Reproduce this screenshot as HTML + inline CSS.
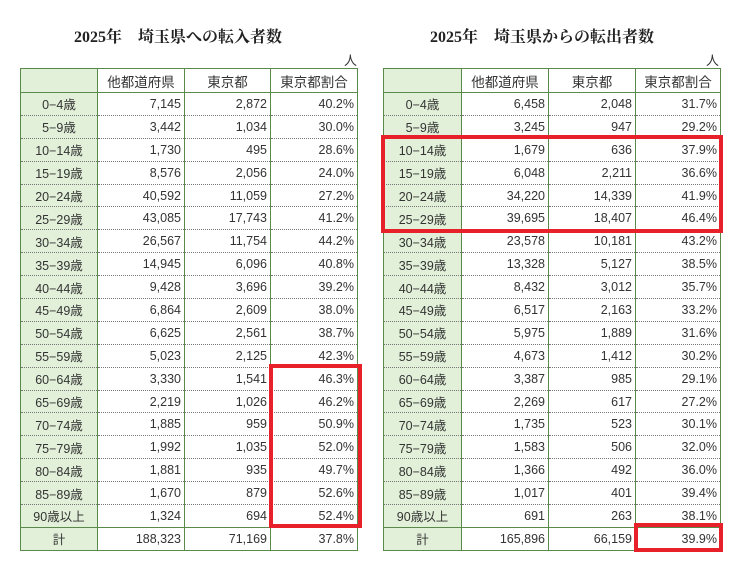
<!DOCTYPE html>
<html><head><meta charset="utf-8"><style>
body{margin:0;background:#fff;width:740px;height:570px;position:relative;overflow:hidden;font-family:"Liberation Sans","Noto Sans CJK JP",sans-serif;}
.t{position:absolute;top:24px;font-family:"Liberation Serif","Noto Serif CJK SC",serif;font-size:16px;font-weight:bold;color:#222;}
.u{position:absolute;top:50px;font-size:13px;color:#333;}
table{position:absolute;top:68px;border-collapse:collapse;table-layout:fixed;font-size:12.5px;color:#333;}
td{border-left:1.5px solid #5a8a4a;border-right:1.5px solid #5a8a4a;border-bottom:1px dotted #777;height:21.9px;padding:0 3px;text-align:right;white-space:nowrap;}
tr:first-child td{height:23px;text-align:center;border-bottom:1.5px solid #5a8a4a;font-size:13.5px}
td:first-child{background:#e2f0d9;text-align:center;}
tr:last-child td{border-top:1.5px solid #5a8a4a;}
table{border:1.5px solid #5a8a4a;}
.r{position:absolute;border:4px solid #e8202a;}
</style></head><body>
<div class="t" style="left:74px">2025年　埼玉県への転入者数</div>
<div class="t" style="left:430px">2025年　埼玉県からの転出者数</div>
<div class="u" style="left:344px">人</div>
<div class="u" style="left:706px">人</div>
<table style="left:20px;width:338px">
<colgroup><col style="width:77px"><col style="width:87px"><col style="width:86px"><col style="width:87px"></colgroup>
<tr><td></td><td>他都道府県</td><td>東京都</td><td>東京都割合</td></tr>
<tr><td>0−4歳</td><td>7,145</td><td>2,872</td><td>40.2%</td></tr>
<tr><td>5−9歳</td><td>3,442</td><td>1,034</td><td>30.0%</td></tr>
<tr><td>10−14歳</td><td>1,730</td><td>495</td><td>28.6%</td></tr>
<tr><td>15−19歳</td><td>8,576</td><td>2,056</td><td>24.0%</td></tr>
<tr><td>20−24歳</td><td>40,592</td><td>11,059</td><td>27.2%</td></tr>
<tr><td>25−29歳</td><td>43,085</td><td>17,743</td><td>41.2%</td></tr>
<tr><td>30−34歳</td><td>26,567</td><td>11,754</td><td>44.2%</td></tr>
<tr><td>35−39歳</td><td>14,945</td><td>6,096</td><td>40.8%</td></tr>
<tr><td>40−44歳</td><td>9,428</td><td>3,696</td><td>39.2%</td></tr>
<tr><td>45−49歳</td><td>6,864</td><td>2,609</td><td>38.0%</td></tr>
<tr><td>50−54歳</td><td>6,625</td><td>2,561</td><td>38.7%</td></tr>
<tr><td>55−59歳</td><td>5,023</td><td>2,125</td><td>42.3%</td></tr>
<tr><td>60−64歳</td><td>3,330</td><td>1,541</td><td>46.3%</td></tr>
<tr><td>65−69歳</td><td>2,219</td><td>1,026</td><td>46.2%</td></tr>
<tr><td>70−74歳</td><td>1,885</td><td>959</td><td>50.9%</td></tr>
<tr><td>75−79歳</td><td>1,992</td><td>1,035</td><td>52.0%</td></tr>
<tr><td>80−84歳</td><td>1,881</td><td>935</td><td>49.7%</td></tr>
<tr><td>85−89歳</td><td>1,670</td><td>879</td><td>52.6%</td></tr>
<tr><td>90歳以上</td><td>1,324</td><td>694</td><td>52.4%</td></tr>
<tr><td>計</td><td>188,323</td><td>71,169</td><td>37.8%</td></tr>
</table>
<table style="left:383px;width:337px">
<colgroup><col style="width:78px"><col style="width:87px"><col style="width:87px"><col style="width:85px"></colgroup>
<tr><td></td><td>他都道府県</td><td>東京都</td><td>東京都割合</td></tr>
<tr><td>0−4歳</td><td>6,458</td><td>2,048</td><td>31.7%</td></tr>
<tr><td>5−9歳</td><td>3,245</td><td>947</td><td>29.2%</td></tr>
<tr><td>10−14歳</td><td>1,679</td><td>636</td><td>37.9%</td></tr>
<tr><td>15−19歳</td><td>6,048</td><td>2,211</td><td>36.6%</td></tr>
<tr><td>20−24歳</td><td>34,220</td><td>14,339</td><td>41.9%</td></tr>
<tr><td>25−29歳</td><td>39,695</td><td>18,407</td><td>46.4%</td></tr>
<tr><td>30−34歳</td><td>23,578</td><td>10,181</td><td>43.2%</td></tr>
<tr><td>35−39歳</td><td>13,328</td><td>5,127</td><td>38.5%</td></tr>
<tr><td>40−44歳</td><td>8,432</td><td>3,012</td><td>35.7%</td></tr>
<tr><td>45−49歳</td><td>6,517</td><td>2,163</td><td>33.2%</td></tr>
<tr><td>50−54歳</td><td>5,975</td><td>1,889</td><td>31.6%</td></tr>
<tr><td>55−59歳</td><td>4,673</td><td>1,412</td><td>30.2%</td></tr>
<tr><td>60−64歳</td><td>3,387</td><td>985</td><td>29.1%</td></tr>
<tr><td>65−69歳</td><td>2,269</td><td>617</td><td>27.2%</td></tr>
<tr><td>70−74歳</td><td>1,735</td><td>523</td><td>30.1%</td></tr>
<tr><td>75−79歳</td><td>1,583</td><td>506</td><td>32.0%</td></tr>
<tr><td>80−84歳</td><td>1,366</td><td>492</td><td>36.0%</td></tr>
<tr><td>85−89歳</td><td>1,017</td><td>401</td><td>39.4%</td></tr>
<tr><td>90歳以上</td><td>691</td><td>263</td><td>38.1%</td></tr>
<tr><td>計</td><td>165,896</td><td>66,159</td><td>39.9%</td></tr>
</table>
<div class="r" style="left:269px;top:364px;width:85px;height:156px"></div>
<div class="r" style="left:381px;top:135px;width:334px;height:90px"></div>
<div class="r" style="left:634px;top:523px;width:81px;height:21px"></div>
</body></html>
